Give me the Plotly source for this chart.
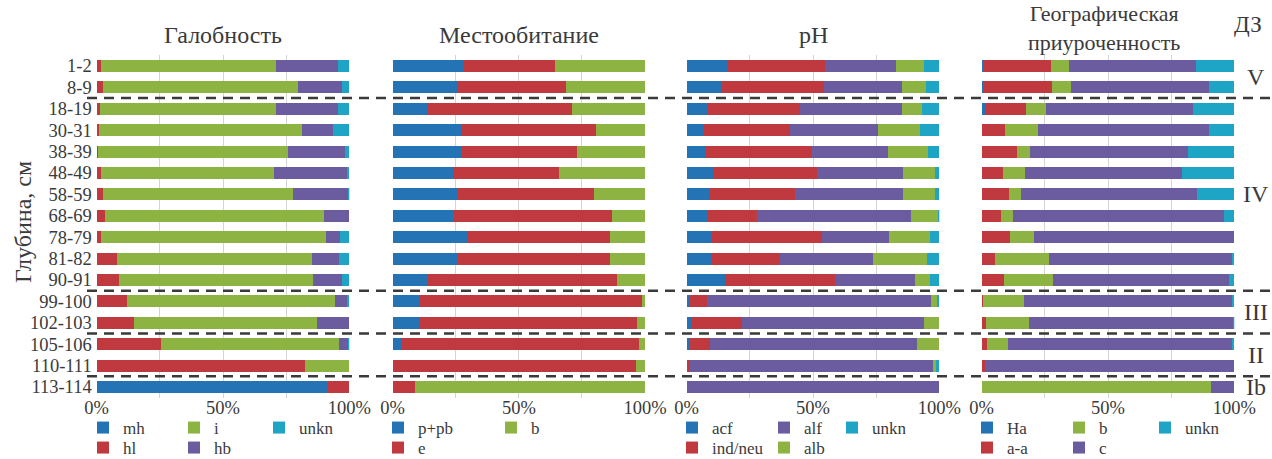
import plotly.graph_objects as go

W, H = 1272, 459

rows = ["1-2", "8-9", "18-19", "30-31", "38-39", "48-49", "58-59", "68-69", "78-79",
        "81-82", "90-91", "99-100", "102-103", "105-106", "110-111", "113-114"]

# Галобность
halo_mh = [0, 0, 0.3, 0.3, 0, 0, 0, 0, 0, 0.3, 0, 0, 0.5, 0, 0, 91.0]
halo_hl = [1.8, 2.6, 1.0, 0.7, 0.4, 1.6, 2.5, 3.2, 1.6, 7.6, 8.7, 11.9, 14.3, 25.3, 82.5, 9.0]
halo_i = [69.2, 77.2, 69.7, 80.4, 75.3, 68.7, 75.1, 86.6, 89.3, 77.5, 76.8, 82.3, 72.5, 70.6, 17.5, 0]
halo_hb = [24.4, 17.2, 24.6, 12.0, 22.6, 28.8, 22.0, 10.2, 5.4, 10.6, 11.7, 5.1, 12.7, 3.8, 0, 0]
halo_unkn = [4.6, 3.0, 4.4, 6.6, 1.7, 0.9, 0.4, 0, 3.7, 4.0, 2.8, 0.7, 0, 0.3, 0, 0]

# Местообитание
hab_ppb = [28.4, 26.0, 13.9, 27.3, 27.5, 24.3, 26.0, 23.9, 29.7, 25.8, 13.5, 10.3, 10.8, 3.2, 0, 0]
hab_e = [35.9, 42.8, 57.3, 53.1, 45.7, 41.8, 53.7, 63.0, 56.4, 60.5, 75.3, 88.5, 85.9, 94.4, 96.3, 9.0]
hab_b = [35.7, 31.2, 28.8, 19.6, 26.8, 33.9, 20.3, 13.1, 13.9, 13.7, 11.2, 1.2, 3.3, 2.4, 3.7, 91.0]

# pH
ph_acf = [16.0, 14.0, 7.9, 6.6, 7.5, 10.6, 9.1, 8.3, 9.6, 9.5, 15.0, 1.3, 1.7, 1.5, 0, 0]
ph_ind = [38.9, 40.2, 36.8, 34.4, 42.2, 41.0, 33.8, 19.7, 43.8, 27.4, 43.8, 6.9, 20.3, 7.7, 1.2, 0]
ph_alf = [28.1, 30.9, 40.4, 34.7, 29.9, 33.9, 42.6, 60.9, 26.7, 36.8, 31.6, 88.4, 71.8, 81.8, 96.4, 100]
ph_alb = [10.8, 9.6, 7.9, 16.8, 15.8, 12.9, 12.8, 10.8, 16.1, 21.3, 5.8, 2.7, 6.2, 9.0, 1.2, 0]
ph_unkn = [6.2, 5.3, 7.0, 7.5, 4.6, 1.6, 1.7, 0.3, 3.8, 5.0, 3.8, 0.7, 0, 0, 1.2, 0]

# Географическая приуроченность
geo_ha = [0.7, 0.5, 1.3, 0, 0, 0, 0, 0, 0, 0, 0, 0, 0, 0, 0, 0]
geo_aa = [26.7, 27.3, 16.2, 9.2, 14.0, 8.3, 10.7, 7.7, 11.1, 5.4, 9.0, 0.7, 1.6, 2.0, 1.2, 0]
geo_b = [7.2, 7.4, 8.0, 13.0, 5.3, 9.0, 5.0, 4.6, 9.6, 21.4, 19.2, 16.2, 17.3, 8.4, 0, 90.9]
geo_c = [50.2, 54.9, 58.0, 67.9, 62.4, 61.9, 69.5, 83.7, 79.3, 72.3, 69.7, 82.4, 80.7, 88.5, 98.8, 9.1]
geo_unkn = [15.2, 9.9, 16.5, 9.9, 18.3, 20.8, 14.8, 4.0, 0, 0.9, 2.1, 0.7, 0.4, 1.1, 0, 0]

titles = ["Галобность", "Местообитание", "pH", "Географическая<br>приуроченность"]
zones = ["V", "IV", "III", "II", "Ib"]
zone_pos = [0.5, 6, 11.5, 13.5, 15]
dividers = [1.5, 10.5, 12.5, 14.5]

BLUE, RED, GREEN, PURPLE, CYAN = "#2474B5", "#C0393F", "#8DB443", "#6B5B9F", "#1EA5C5"
FONT = "Liberation Serif, Times New Roman, serif"
TXT = "#3a3a3a"

def px(x):
    return x / W

def py(y):
    return 1 - y / H

# legend rows (px, centre of symbol)
LEG_ROWS = [428, 448]

panels = [
    ([("mh", halo_mh, BLUE, 0, 0), ("hl", halo_hl, RED, 0, 1), ("i", halo_i, GREEN, 1, 0),
      ("hb", halo_hb, PURPLE, 1, 1), ("unkn", halo_unkn, CYAN, 2, 0)],
     (96.7, 349.3), [103, 194, 279]),
    ([("p+pb", hab_ppb, BLUE, 0, 0), ("e", hab_e, RED, 0, 1), ("b", hab_b, GREEN, 1, 0)],
     (392.7, 645.0), [398, 511]),
    ([("acf", ph_acf, BLUE, 0, 0), ("ind/neu", ph_ind, RED, 0, 1), ("alf", ph_alf, PURPLE, 1, 0),
      ("alb", ph_alb, GREEN, 1, 1), ("unkn", ph_unkn, CYAN, 2, 0)],
     (686.7, 939.3), [692, 784, 852]),
    ([("Ha", geo_ha, BLUE, 0, 0), ("a-a", geo_aa, RED, 0, 1), ("b", geo_b, GREEN, 1, 0),
      ("c", geo_c, PURPLE, 1, 1), ("unkn", geo_unkn, CYAN, 2, 0)],
     (981.7, 1234.3), [987, 1079, 1165]),
]

fig = go.Figure()
layout = dict(
    width=W, height=H, margin=dict(l=0, r=0, t=0, b=0, autoexpand=False),
    paper_bgcolor="white", plot_bgcolor="white",
    barmode="stack", barnorm="percent",
    font=dict(family=FONT, size=18, color=TXT),
    showlegend=True,
)
ydom = [py(397.7), py(55.3)]
legend_idx = 0
annotations = []
for p, (series, (x0, x1), legcols) in enumerate(panels):
    xa = "x" if p == 0 else f"x{p+1}"
    ya = "y" if p == 0 else f"y{p+1}"
    for name, vals, color, col, row in series:
        legend_idx += 1
        lname = "legend" if legend_idx == 1 else f"legend{legend_idx}"
        layout[lname] = dict(
            x=px(legcols[col] - 20), y=py(LEG_ROWS[row]), xanchor="left", yanchor="middle",
            orientation="v", bgcolor="rgba(0,0,0,0)", borderwidth=0,
            font=dict(family=FONT, size=17, color=TXT), traceorder="normal",
            itemclick=False, itemdoubleclick=False,
        )
        fig.add_trace(go.Bar(
            y=rows, x=vals, name=name, orientation="h", xaxis=xa, yaxis=ya,
            marker=dict(color=color, line=dict(width=0)),
            legend=lname, width=0.56,
        ))
    xkey = "xaxis" if p == 0 else f"xaxis{p+1}"
    ykey = "yaxis" if p == 0 else f"yaxis{p+1}"
    layout[xkey] = dict(
        domain=[px(x0), px(x1)], anchor=ya, range=[0, 100],
        tickmode="array", tickvals=[0, 25, 50, 75, 100], ticktext=["0%", "", "50%", "", "100%"],
        showgrid=True, gridcolor="#D4D4D4", gridwidth=1.3, zeroline=False,
        showline=False, ticks="", tickfont=dict(family=FONT, size=18.5, color=TXT),
        ticklabelstandoff=-3, fixedrange=True, automargin=False,
    )
    layout[ykey] = dict(
        domain=ydom, anchor=xa, type="category", categoryorder="array",
        categoryarray=rows, range=[15.5, -0.5], showgrid=False, zeroline=False,
        showline=False, ticks="", showticklabels=(p == 0),
        tickmode="array", tickvals=rows, ticktext=rows,
        tickfont=dict(family=FONT, size=18.5, color=TXT), ticklabelstandoff=4,
        fixedrange=True, automargin=False,
    )
    if p > 0:
        layout[ykey]["matches"] = "y"
    tsize = 24 if p < 3 else 22
    ty = 35 if p < 3 else 28
    annotations.append(dict(
        text=titles[p], x=px((x0 + x1) / 2 if p < 3 else 1104), y=py(ty),
        xref="paper", yref="paper", xanchor="center", yanchor="middle",
        showarrow=False, font=dict(family=FONT, size=tsize, color=TXT)))

annotations += [
    dict(text="ДЗ", x=px(1248), y=py(24), xref="paper", yref="paper",
         xanchor="center", yanchor="middle", showarrow=False,
         font=dict(family=FONT, size=23, color=TXT)),
    dict(text="Глубина, см", x=px(23), y=py(222), xref="paper", yref="paper",
         xanchor="center", yanchor="middle", showarrow=False, textangle=-90,
         font=dict(family=FONT, size=24, color=TXT)),
]
for z, zp in zip(zones, zone_pos):
    annotations.append(dict(
        text=z, x=px(1256), y=zp, xref="paper", yref="y",
        xanchor="center", yanchor="middle", showarrow=False,
        font=dict(family=FONT, size=24, color=TXT)))

shapes = []
for d in dividers:
    shapes.append(dict(
        type="line", xref="paper", yref="y", x0=px(87), x1=1.0, y0=d, y1=d,
        line=dict(color="#3a3a3a", width=2.5, dash="10px,7px"), layer="above"))

layout["annotations"] = annotations
layout["shapes"] = shapes
fig.update_layout(**layout)
fig.write_html(
    "out.html",
    config={"displayModeBar": False},
    post_script="document.body.style.margin='0';document.body.style.overflow='hidden';",
)
